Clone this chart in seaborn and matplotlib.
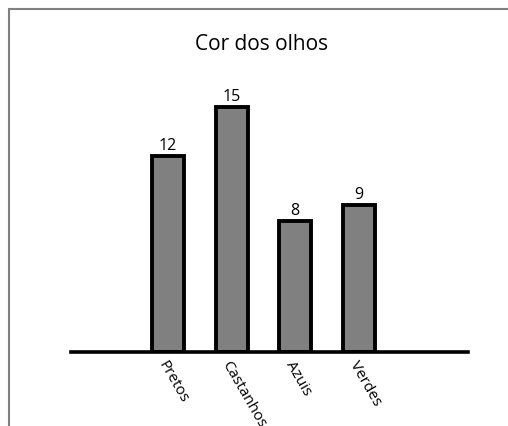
import matplotlib

matplotlib.use("Agg")

import pandas as pd
import seaborn as sns
import matplotlib.pyplot as plt
from matplotlib.lines import Line2D

# dados do gráfico
categorias = ["Pretos", "Castanhos", "Azuis", "Verdes"]
valores = [12, 15, 8, 9]
titulo = "Cor dos olhos"


def main():
    df = pd.DataFrame({"cor": categorias, "n": valores})

    sns.set_theme(style="white")
    plt.rcParams["font.family"] = ["Open Sans", "DejaVu Sans"]

    fig = plt.figure(figsize=(5.08, 4.27), dpi=100)
    ax = fig.add_axes([71 / 508, 1 - 353 / 427, (468 - 71) / 508, 0.62])

    sns.barplot(
        data=df,
        x="cor",
        y="n",
        ax=ax,
        color="#808080",
        saturation=1,
        width=0.5,
        edgecolor="black",
        linewidth=2.8,
    )

    # rótulos de valor sobre as barras
    for cont in ax.containers:
        ax.bar_label(cont, padding=2, fontsize=11.5, color="black")

    ax.set_xlim(-1.52, 4.71)
    ax.set_ylim(0, 16.2)
    ax.set_xlabel("")
    ax.set_ylabel("")
    ax.set_yticks([])

    for s in ["top", "left", "right"]:
        ax.spines[s].set_visible(False)
    ax.spines["bottom"].set_color("black")
    ax.spines["bottom"].set_linewidth(2.6)
    ax.spines["bottom"].set_zorder(5)

    ax.tick_params(axis="x", length=0, pad=4)
    plt.setp(
        ax.get_xticklabels(),
        rotation=-60,
        ha="left",
        va="top",
        rotation_mode="anchor",
        fontsize=11,
        color="black",
    )

    fig.text(262 / 508, 1 - 45 / 427, titulo, ha="center", va="center",
             fontsize=15, color="black")

    # moldura cinzenta (apenas topo e esquerda visíveis)
    fig.add_artist(Line2D([8.5 / 508, 1], [1 - 9.5 / 427] * 2,
                          transform=fig.transFigure, color="#808080", lw=1.5))
    fig.add_artist(Line2D([8.5 / 508] * 2, [0, 1 - 9.5 / 427],
                          transform=fig.transFigure, color="#808080", lw=1.5))

    fig.savefig("out.png", dpi=100)
    plt.close(fig)


if __name__ == "__main__":
    main()
